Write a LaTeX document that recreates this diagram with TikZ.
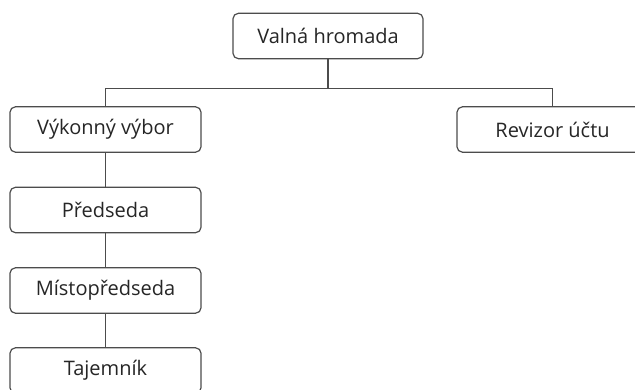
\documentclass[tikz,border=0pt]{standalone}
\usepackage{fontspec}
\setmainfont{Open Sans}
\begin{document}
\begin{tikzpicture}[x=0.75pt,y=-0.75pt,
  orgbox/.style={draw=black!70, line width=0.9pt, rounded corners=4pt, fill=white,
    inner sep=0pt, minimum width=143.25pt, minimum height=34pt,
    text=black!85, font=\fontsize{15}{17}\selectfont},
  link/.style={draw=black!70, line width=0.9pt}]
\useasboundingbox (0,0) rectangle (635,389);
\clip (0,0) rectangle (635,389);
\fill[white] (0,0) rectangle (635,389);
\node[orgbox, minimum width=142.5pt] (valna) at (328,36) {Valná hromada};
\node[orgbox] (vykonny) at (105.5,129.5) {Výkonný výbor};
\node[orgbox] (revizor) at (552.5,129.5) {Revizor účtu};
\node[orgbox] (predseda) at (105.5,210) {Předseda};
\node[orgbox] (misto) at (105.5,290.5) {Místopředseda};
\node[orgbox] (tajemnik) at (105.5,370.5) {Tajemník};
\coordinate (j) at (328,88.5);
\draw[link] (valna.south) -- (j);
\draw[link] (vykonny.north) |- (j) -| (revizor.north);
\draw[link] (vykonny) -- (predseda);
\draw[link] (predseda) -- (misto);
\draw[link] (misto) -- (tajemnik);
\end{tikzpicture}
\end{document}
